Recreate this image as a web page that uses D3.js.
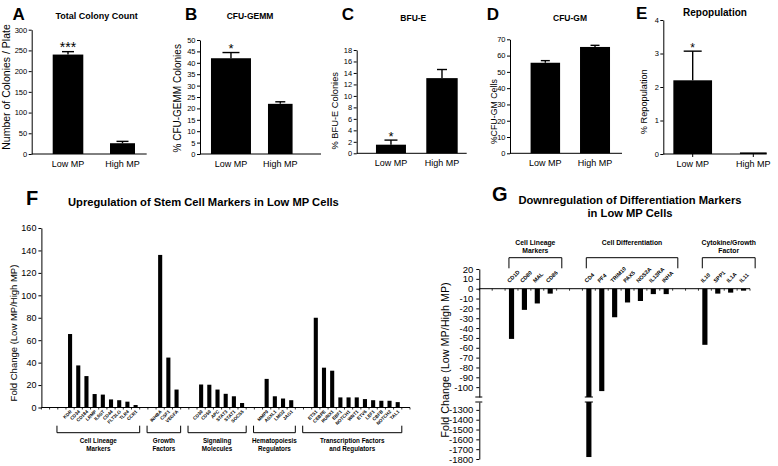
<!DOCTYPE html>
<html><head><meta charset="utf-8">
<script src="https://cdn.jsdelivr.net/npm/d3@7"></script>
<style>
body{margin:0;background:#fff}
svg{display:block;background:#fff}
text{font-family:"Liberation Sans",Arial,Helvetica,sans-serif;fill:#000}
</style>
</head><body>
<svg id="c" width="778" height="466"></svg>
<script>
// ---------------- DATA ----------------
const groupLabels = ["Low MP", "High MP"];

const colonyMean = [240, 26];
const colonyErr = [7, 4.5];
const colonySig = ["***", ""];
const colonyTicks = [0, 50, 100, 150, 200, 250, 300];

const gemmMean = [42, 22];
const gemmErr = [2.5, 0.9];
const gemmSig = ["*", ""];
const gemmTicks = [0, 5, 10, 15, 20, 25, 30, 35, 40, 45, 50];

const bfueMean = [1.5, 13.1];
const bfueErr = [0.8, 1.5];
const bfueSig = ["*", ""];
const bfueTicks = [0, 2, 4, 6, 8, 10, 12, 14, 16, 18];

const gmMean = [55.6, 65.3];
const gmErr = [1.3, 1.0];
const gmSig = ["", ""];
const gmTicks = [0, 10, 20, 30, 40, 50, 60, 70];

const repopMean = [2.2, 0.02];
const repopErr = [0.87, 0];
const repopSig = ["*", ""];
const repopTicks = [0, 1, 2, 3, 4];

// Panel F
const fGroupNames = [["Cell Lineage", "Markers"], ["Growth", "Factors"], ["Signaling", "Molecules"], ["Hematopoiesis", "Regulators"], ["Transcription Factors", "and Regulators"]];
const fGenes = [
  ["KDR", "CD34", "CD184", "LRMP", "IL6ST", "CD44", "FLT3LG", "TLR4", "CCR1"],
  ["INHBA", "CSF1", "VEGFA"],
  ["CD30", "CD50", "APC", "STAT3", "STAT1", "SOCS5"],
  ["MMP9", "ASXL1", "LMO2", "JAG1"],
  ["ETS1", "CEBPE", "RUNX1", "EBF1", "NOTCH1", "WNT1", "ETV6", "LEF1", "CBFB", "NOTCH2", "TAL1"]
];
const fValues = [
  [65.5, 37.5, 28, 12, 11.5, 7.2, 6.5, 5.2, 2.2],
  [136, 44.5, 16],
  [20.5, 20.3, 16, 12.2, 10, 4],
  [25.5, 10, 8, 6.5],
  [80, 35.5, 32.8, 9, 9, 9, 7.5, 6.5, 6, 6, 4.8]
];
const fTicks = [0, 20, 40, 60, 80, 100, 120, 140, 160];

// Panel G
const gGroupNames = [["Cell Lineage", "Markers"], ["Cell Differentiation"], ["Cytokine/Growth", "Factor"]];
const gGenes = [
  ["CD1D", "CD80", "MAL", "CD86"],
  ["CD4", "PF4", "TRIM10", "PAX5", "NOS2A", "IL13RA", "INHA"],
  ["IL10", "SPP1", "IL1A", "IL11"]
];
const gValues = [
  [-51, -21.5, -15, -5],
  [-1780, -104, -29, -14, -12.5, -5.5, -5.5],
  [-57, -5, -4, -2]
];
const gTicksUpper = [20, 10, 0, -10, -20, -30, -40, -50, -60, -70, -80, -90, -100];
const gTicksLower = [-1300, -1400, -1500, -1600, -1700, -1800];

// ---------------- DRAWING ----------------
const svg = d3.select("#c");
const plain = d => String(d);

function label(g, x, y, s, size, o = {}) {
  const t = g.append("text").attr("font-size", size).text(s);
  if (o.rotate != null) t.attr("transform", `translate(${x},${y}) rotate(${o.rotate})`);
  else t.attr("x", x).attr("y", y);
  if (o.anchor) t.attr("text-anchor", o.anchor);
  if (o.bold) t.attr("font-weight", "bold");
  return t;
}
function hline(g, x1, x2, y, w = 1) {
  g.append("line").attr("x1", x1).attr("x2", x2).attr("y1", y).attr("y2", y).attr("stroke", "#000").attr("stroke-width", w);
}
function vline(g, x, y1, y2, w = 1) {
  g.append("line").attr("x1", x).attr("x2", x).attr("y1", y1).attr("y2", y2).attr("stroke", "#000").attr("stroke-width", w);
}

const topPanels = [
  {letter: "A", lx: 12.5, ly: 20, title: "Total Colony Count", tx: 96.7, ty: 18.7, ts: 9,
   x0: 31.7, x1: 146.7, pad: 0.555, align: 0.6, yBase: 154, yTop: 29.7, barW: [30.6, 25], capW: [12, 12], star: 14,
   yl: "Number of Colonies / Plate", ylx: 9.5, yly: 87, yls: 10.5,
   mean: colonyMean, err: colonyErr, sig: colonySig, ticks: colonyTicks},
  {letter: "B", lx: 185, ly: 19.5, title: "CFU-GEMM", tx: 250, ty: 18.7, ts: 8.5,
   x0: 200, x1: 321, pad: 0.727, align: 0.432, yBase: 154, yTop: 40, barW: [40, 24.6], capW: [17, 10], star: 13,
   yl: "% CFU-GEMM Colonies", ylx: 181, yly: 98.3, yls: 10,
   mean: gemmMean, err: gemmErr, sig: gemmSig, ticks: gemmTicks},
  {letter: "C", lx: 341.7, ly: 20, title: "BFU-E", tx: 413.3, ty: 20.5, ts: 8.5,
   x0: 356.7, x1: 466.7, pad: 0.578, align: 0.581, yBase: 153.3, yTop: 50, barW: [30, 31.4], capW: [13, 10], star: 13,
   yl: "% BFU-E Colonies", ylx: 338, yly: 110.8, yls: 9.3,
   mean: bfueMean, err: bfueErr, sig: bfueSig, ticks: bfueTicks},
  {letter: "D", lx: 486.7, ly: 19.5, title: "CFU-GM", tx: 570, ty: 20.5, ts: 8.5,
   x0: 510, x1: 622, pad: 0.627, align: 0.567, yBase: 153.3, yTop: 39.3, barW: [29.5, 30], capW: [9, 9], star: 13,
   yl: "%CFU-GM Cells", ylx: 497, yly: 111.7, yls: 8.8,
   mean: gmMean, err: gmErr, sig: gmSig, ticks: gmTicks},
  {letter: "E", lx: 636, ly: 19.3, title: "Repopulation", tx: 715, ty: 15.5, ts: 10,
   x0: 663.3, x1: 766.7, pad: 0.353, align: 0.687, yBase: 154, yTop: 20, barW: [38.7, 26.7], capW: [18, 0], star: 12,
   yl: "% Repopulation", ylx: 647, yly: 101.7, yls: 9.2, xTicks: true,
   mean: repopMean, err: repopErr, sig: repopSig, ticks: repopTicks}
];

topPanels.forEach(cfg => {
  const g = svg.append("g");
  const x = d3.scalePoint().domain(groupLabels).range([cfg.x0, cfg.x1]).padding(cfg.pad).align(cfg.align);
  const y = d3.scaleLinear().domain([0, d3.max(cfg.ticks)]).range([cfg.yBase, cfg.yTop]);

  groupLabels.forEach((k, i) => {
    const cx = x(k), w = cfg.barW[i];
    const m = cfg.mean[i], e = cfg.err[i];
    const h = Math.max(y(0) - y(m), 1.6);
    g.append("rect").attr("x", cx - w / 2).attr("y", y(0) - h).attr("width", w).attr("height", h).attr("fill", "#000");
    if (e > 0) {
      const yt = y(m + e);
      vline(g, cx, y(m), yt, 1.4);
      hline(g, cx - cfg.capW[i] / 2, cx + cfg.capW[i] / 2, yt, 1.4);
    }
    if (cfg.sig[i]) label(g, cx, y(m + e) + 0.5, cfg.sig[i], cfg.star, {anchor: "middle"});
    label(g, cx, cfg.yBase + 12.5, k, 9, {anchor: "middle"});
    if (cfg.xTicks) vline(g, cx, cfg.yBase, cfg.yBase + 3, 1);
  });

  const ay = g.append("g").attr("transform", `translate(${cfg.x0},0)`)
    .call(d3.axisLeft(y).tickValues(cfg.ticks).tickFormat(plain).tickSize(3).tickSizeOuter(0).tickPadding(1.5));
  ay.attr("font-size", 7.5);
  hline(g, cfg.x0, cfg.x1, cfg.yBase, 1);

  label(g, cfg.lx, cfg.ly, cfg.letter, 17, {bold: true});
  label(g, cfg.tx, cfg.ty, cfg.title, cfg.ts, {bold: true, anchor: "middle"});
  label(g, cfg.ylx, cfg.yly, cfg.yl, cfg.yls, {anchor: "middle", rotate: -90});
});

// ---------------- Panel F ----------------
(function () {
  const g = svg.append("g");
  const slots = [];
  let gid = 0;
  const gaps = n => { for (let i = 0; i < n; i++) slots.push("_gap" + (gid++)); };
  gaps(3);
  fGenes.forEach((arr, gi) => { if (gi > 0) gaps(2); arr.forEach(s => slots.push(s)); });
  gaps(1);

  const X0 = 41.4, X1 = 410, Y0 = 407.5;
  const p = 0.5;
  const x = d3.scaleBand().domain(slots).range([X0, X1]).paddingInner(p).paddingOuter(p / 2);
  const y = d3.scaleLinear().domain([0, 160]).range([Y0, 228]);
  const step = x.step();

  fGenes.forEach((arr, gi) => {
    arr.forEach((gene, j) => {
      const v = fValues[gi][j];
      g.append("rect").attr("x", x(gene)).attr("y", y(v)).attr("width", x.bandwidth()).attr("height", y(0) - y(v)).attr("fill", "#000");
      label(g, x(gene) + x.bandwidth() / 2 + 2, 412, gene, 4.6, {bold: true, anchor: "end", rotate: -45});
    });
    const first = x(arr[0]) + x.bandwidth() / 2, last = x(arr[arr.length - 1]) + x.bandwidth() / 2;
    const L = first - 1.6 * step, R = last + 0.5 * step;
    g.append("path").attr("d", `M${L},425.7V432.7H${R}V425.7`).attr("fill", "none").attr("stroke", "#000").attr("stroke-width", 1);
    fGroupNames[gi].forEach((t, li) => label(g, (L + R) / 2, 443 + li * 8, t, 6.3, {bold: true, anchor: "middle"}));
  });

  hline(g, X0, X1, Y0, 1);
  for (let i = 0; i <= slots.length; i++) vline(g, X0 + i * step, Y0, Y0 + 2, 0.8);

  const ay = g.append("g").attr("transform", `translate(${X0},0)`)
    .call(d3.axisLeft(y).tickValues(fTicks).tickFormat(plain).tickSize(3).tickSizeOuter(0).tickPadding(2));
  ay.attr("font-size", 9);

  label(g, 17, 333, "Fold Change (Low MP/High MP)", 9.5, {anchor: "middle", rotate: -90});
  label(g, 26, 205, "F", 20, {bold: true});
  label(g, 68, 206, "Upregulation of Stem Cell Markers in Low MP Cells", 11.2, {bold: true});
})();

// ---------------- Panel G ----------------
(function () {
  const g = svg.append("g");
  const slots = [];
  let gid = 0;
  const gaps = n => { for (let i = 0; i < n; i++) slots.push("_gap" + (gid++)); };
  gaps(2);
  gGenes.forEach((arr, gi) => { if (gi > 0) gaps(2); arr.forEach(s => slots.push(s)); });

  const X0 = 479.3, X1 = 750;
  const p = 0.6;
  const x = d3.scaleBand().domain(slots).range([X0, X1]).paddingInner(p).paddingOuter(p / 2);
  const yU = d3.scaleLinear().domain([20, -110]).range([269, 397]);
  const yL = d3.scaleLinear().domain([-1220, -1800]).range([402, 459]);
  const step = x.step();
  const Y0 = yU(0);
  const upMin = yU.domain()[1], lowMax = yL.domain()[0];

  gGenes.forEach((arr, gi) => {
    arr.forEach((gene, j) => {
      const v = gValues[gi][j];
      const bx = x(gene), bw = x.bandwidth();
      const vu = Math.max(v, upMin);
      g.append("rect").attr("x", bx).attr("y", Y0).attr("width", bw).attr("height", yU(vu) - Y0).attr("fill", "#000");
      if (v < upMin) {
        g.append("rect").attr("x", bx).attr("y", yL(lowMax)).attr("width", bw).attr("height", yL(v) - yL(lowMax)).attr("fill", "#000");
        hline(g, bx - 1.5, bx + bw + 1.5, yU(upMin), 1);
        hline(g, bx - 1.5, bx + bw + 1.5, yL(lowMax), 1);
      }
      label(g, bx + bw / 2 - 2, 283, gene, 5.5, {bold: true, rotate: -45});
    });
    const first = x(arr[0]) + x.bandwidth() / 2, last = x(arr[arr.length - 1]) + x.bandwidth() / 2;
    const L = first - 0.2 * step, R = last + 0.9 * step;
    g.append("path").attr("d", `M${L},268.3V257.7H${R}V268.3`).attr("fill", "none").attr("stroke", "#000").attr("stroke-width", 1);
    gGroupNames[gi].forEach((t, li) => label(g, (L + R) / 2, 245 + li * 8, t, 6.8, {bold: true, anchor: "middle"}));
  });

  hline(g, X0, X1, Y0, 1);
  for (let i = 0; i <= slots.length; i++) vline(g, X0 + i * step, Y0, Y0 + 2, 0.8);

  const au = g.append("g").attr("transform", `translate(${X0},0)`)
    .call(d3.axisLeft(yU).tickValues(gTicksUpper).tickFormat(plain).tickSize(3).tickSizeOuter(0).tickPadding(3));
  au.attr("font-size", 9.5);
  const al = g.append("g").attr("transform", `translate(${X0},0)`)
    .call(d3.axisLeft(yL).tickValues(gTicksLower).tickFormat(plain).tickSize(3).tickSizeOuter(0).tickPadding(3));
  al.attr("font-size", 9.5);
  hline(g, X0 - 4, X0 + 3, yU(upMin), 1);
  hline(g, X0 - 4, X0 + 3, yL(lowMax), 1);

  label(g, 449, 360, "Fold Change (Low MP/High MP)", 10.8, {anchor: "middle", rotate: -90});
  label(g, 492, 201, "G", 20, {bold: true});
  label(g, 630, 204.3, "Downregulation of Differentiation Markers", 11.2, {bold: true, anchor: "middle"});
  label(g, 630, 216.7, "in Low MP Cells", 11.2, {bold: true, anchor: "middle"});
})();
</script>
</body></html>
